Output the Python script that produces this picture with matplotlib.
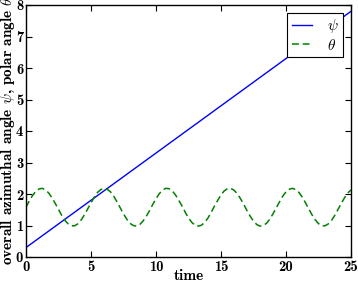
import numpy as np
import matplotlib
matplotlib.use("Agg")
import matplotlib.pyplot as plt

# overall azimuthal angle psi (straight line)
psi_time = [0.0, 25.0]
psi_vals = [0.30, 7.80]

# polar angle theta, read every 0.25 time units
theta_vals = [
    1.58, 1.78, 1.95, 2.08, 2.16, 2.18, 2.13, 2.03, 1.88, 1.70,
    1.51, 1.32, 1.16, 1.05, 0.99, 0.99, 1.06, 1.18, 1.34, 1.53,
    1.72, 1.90, 2.05, 2.14, 2.18, 2.15, 2.07, 1.93, 1.75, 1.56,
    1.37, 1.20, 1.07, 1.00, 0.98, 1.03, 1.14, 1.29, 1.47, 1.67,
    1.85, 2.01, 2.12, 2.18, 2.17, 2.10, 1.97, 1.80, 1.62, 1.42,
    1.24, 1.10, 1.01, 0.98, 1.01, 1.10, 1.24, 1.42, 1.62, 1.80,
    1.97, 2.10, 2.17, 2.18, 2.12, 2.01, 1.85, 1.67, 1.47, 1.29,
    1.14, 1.03, 0.98, 1.00, 1.07, 1.20, 1.37, 1.56, 1.75, 1.93,
    2.07, 2.15, 2.18, 2.14, 2.05, 1.90, 1.72, 1.53, 1.34, 1.18,
    1.06, 0.99, 0.99, 1.05, 1.16, 1.32, 1.51, 1.70, 1.88, 2.03,
    2.13,
]
theta_time = np.linspace(0, 25, len(theta_vals))

xticks = [0, 5, 10, 15, 20, 25]
yticks = [0, 1, 2, 3, 4, 5, 6, 7, 8]

plt.rcParams['font.family'] = ['cmb10', 'DejaVu Serif']
plt.rcParams['mathtext.fontset'] = 'cm'
plt.rcParams['font.size'] = 11
plt.rcParams['xtick.direction'] = 'in'
plt.rcParams['ytick.direction'] = 'in'
plt.rcParams['xtick.top'] = True
plt.rcParams['ytick.right'] = True

fig = plt.figure(figsize=(3.58, 2.82), dpi=100)
ax = fig.add_axes([26/358, 1 - 257/282, 325/358, 252/282])

ax.plot(psi_time, psi_vals, color='b', lw=1.0, label=r'$\psi$')
ax.plot(theta_time, theta_vals, color='g', lw=1.1, dashes=(4.5, 2.5),
        label=r'$\theta$')

ax.set_xlim(0, 25)
ax.set_ylim(0, 8)
ax.set_xticks(xticks)
ax.set_yticks(yticks)
ax.tick_params(length=4, width=0.8, pad=2, labelsize=10.5)
for s in ax.spines.values():
    s.set_linewidth(1.0)

ax.set_xlabel('time', labelpad=-3.5)
ax.set_ylabel(r'overall azimuthal angle $\psi$, polar angle $\theta$', labelpad=-1)

leg = ax.legend(loc='upper right', fancybox=False, framealpha=1,
                edgecolor='black', handlelength=1.3, borderaxespad=0.5,
                handletextpad=1.0, borderpad=0.3, labelspacing=0.15,
                fontsize=11)
leg.get_frame().set_linewidth(0.8)

fig.savefig('out.png', dpi=100)
